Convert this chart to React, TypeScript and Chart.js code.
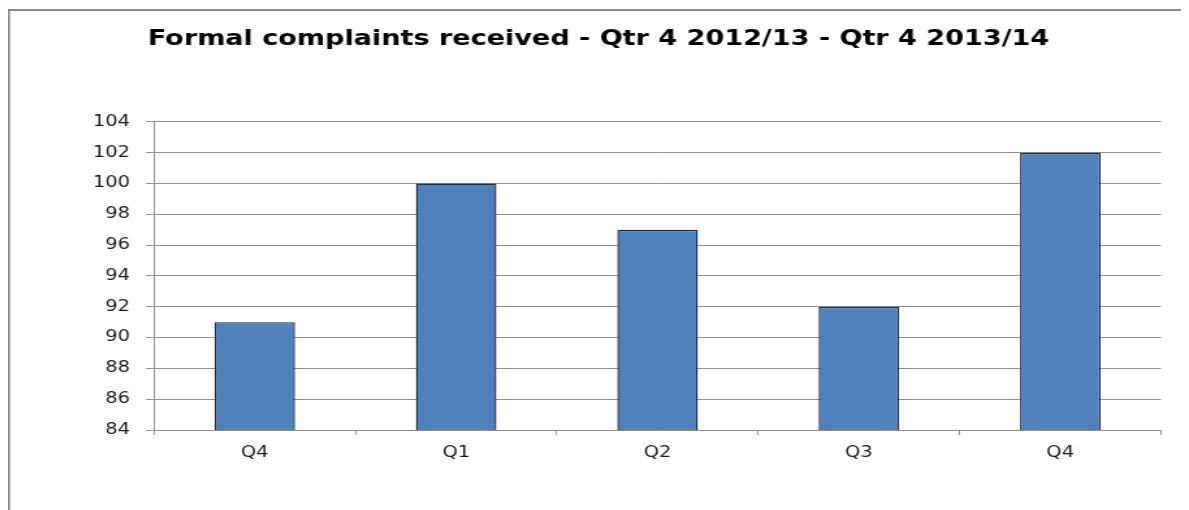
import React, { useEffect, useRef } from "react";
import { Chart, registerables } from "chart.js";

Chart.register(...registerables);

const titleText = "Formal complaints received - Qtr 4 2012/13 - Qtr 4 2013/14";
const categories = ["Q4", "Q1", "Q2", "Q3", "Q4"];
const complaints = [91, 100, 97, 92, 102];
const yMin = 84;
const yMax = 104;
const yStep = 2;

const S = 1.3;
const LOGICAL_W = 908;
const H = 502;

const framePlugin = {
  id: "frame",
  beforeDraw(chart: any) {
    const ctx = chart.ctx;
    ctx.save();
    ctx.strokeStyle = "#8a8a8a";
    ctx.lineWidth = 1.6;
    ctx.beginPath();
    ctx.moveTo(0.8, H);
    ctx.lineTo(0.8, 2);
    ctx.stroke();
    ctx.lineWidth = 2;
    ctx.beginPath();
    ctx.moveTo(0, 2);
    ctx.lineTo(chart.width, 2);
    ctx.stroke();
    ctx.restore();
  },
};

export default function App() {
  const ref = useRef<HTMLCanvasElement | null>(null);
  useEffect(() => {
    if (!ref.current) return;
    const chart = new Chart(ref.current, {
      type: "bar",
      data: {
        labels: categories,
        datasets: [
          {
            data: complaints,
            backgroundColor: "#4f81bd",
            borderColor: "#1f2d40",
            borderWidth: 1.4,
            borderSkipped: "start",
            barPercentage: 0.4,
            categoryPercentage: 1,
          },
        ],
      },
      options: {
        animation: false,
        responsive: false,
        maintainAspectRatio: false,
        layout: { padding: 0 },
        plugins: {
          legend: { display: false },
          tooltip: { enabled: false },
          title: {
            display: true,
            text: titleText,
            color: "#000000",
            font: { family: "'DejaVu Sans'", size: 20.8, weight: "bold", lineHeight: 1.2 },
            padding: { top: 19, bottom: 70 },
          },
        },
        scales: {
          x: {
            grid: {
              drawOnChartArea: false,
              drawTicks: true,
              tickLength: 5,
              color: "#8e8e8e",
              lineWidth: 1,
            },
            border: { color: "#8e8e8e", width: 1 },
            ticks: {
              color: "#1a1a1a",
              padding: 9,
              font: { family: "'DejaVu Sans'", size: 15, lineHeight: 1.2 },
            },
            afterFit(scale: any) {
              scale.height = 80;
            },
          },
          y: {
            min: yMin,
            max: yMax,
            grid: {
              color: "#8e8e8e",
              lineWidth: 1,
              drawTicks: true,
              tickLength: 8 / S,
            },
            border: { color: "#8e8e8e", width: 1 },
            ticks: {
              stepSize: yStep,
              color: "#1a1a1a",
              padding: 16 / S,
              font: { family: "'DejaVu Sans'", size: 15, lineHeight: 1.2 },
            },
            afterFit(scale: any) {
              scale.width = 146 / S;
            },
          },
          spacer: {
            type: "linear",
            position: "right",
            display: true,
            grid: { display: false, drawTicks: false },
            border: { display: false },
            ticks: { display: false },
            afterFit(scale: any) {
              scale.width = 28 / S;
            },
          },
        },
      },
      plugins: [framePlugin],
    });
    return () => chart.destroy();
  }, []);
  return (
    <div style={{ width: LOGICAL_W, height: H, transform: `scaleX(${1181 / LOGICAL_W})`, transformOrigin: "0 0" }}>
      <canvas
        ref={ref}
        width={LOGICAL_W}
        height={H}
        style={{ width: LOGICAL_W + "px", height: H + "px", display: "block" }}
      />
    </div>
  );
}
